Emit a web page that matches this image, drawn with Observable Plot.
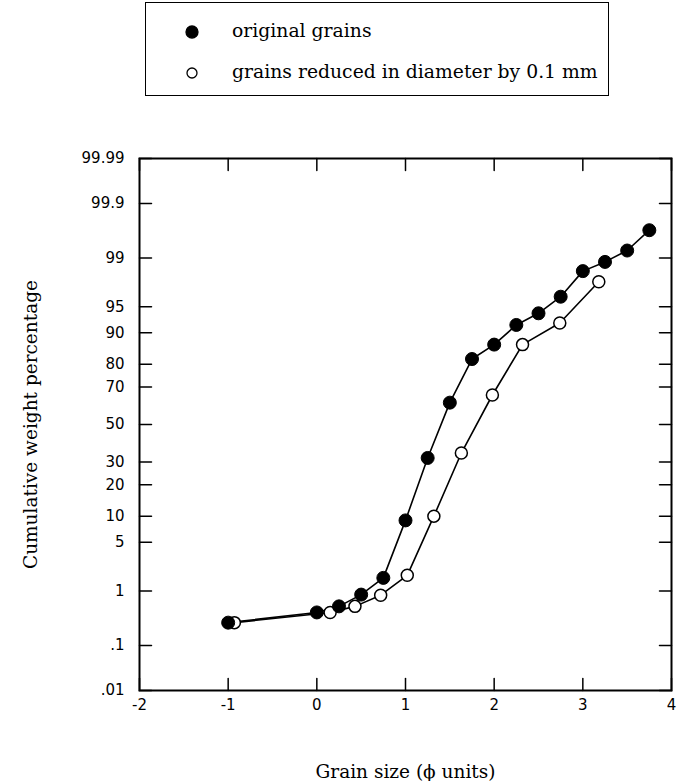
<!DOCTYPE html>
<html>
<head>
<meta charset="utf-8">
<script src="https://cdn.jsdelivr.net/npm/d3@7"></script>
<script src="https://cdn.jsdelivr.net/npm/@observablehq/plot@0.6"></script>
<style>
  html, body { margin: 0; padding: 0; background: #fff; }
  #wrap { width: 683px; position: relative; }
  #legend { position: relative; width: 683px; height: 100px; }
  #legendBox { position: absolute; left: 145px; top: 2px; width: 464px; height: 94px; border: 1.5px solid #000; box-sizing: border-box; }
  .row { position: absolute; left: 0; font-family: "DejaVu Serif", serif; font-size: 18.8px; color: #000; white-space: nowrap; }
  .row svg { position: absolute; left: 38px; }
  .row span { position: absolute; left: 86px; top: -12px; }
</style>
</head>
<body>
<div id="wrap">
  <div id="legend"><div id="legendBox"></div></div>
  <div id="chart"></div>
</div>
<script>
// ---- data ----
const phiOriginal = [-1, 0, 0.25, 0.5, 0.75, 1, 1.25, 1.5, 1.75, 2, 2.25, 2.5, 2.75, 3, 3.25, 3.5, 3.75];
const pctOriginal = [0.28, 0.43, 0.55, 0.87, 1.6, 9, 32, 62, 82, 86.8, 91.8, 94, 96.3, 98.4, 98.85, 99.25, 99.67];
const phiReduced = [-0.93, 0.15, 0.43, 0.72, 1.02, 1.32, 1.63, 1.98, 2.32, 2.74, 3.18];
const pctReduced = [0.28, 0.43, 0.55, 0.85, 1.75, 10, 34.5, 66, 86.8, 92.2, 97.7];
const yTickValues = [0.01, 0.1, 1, 5, 10, 20, 30, 50, 70, 80, 90, 95, 99, 99.9, 99.99];
const yTickLabels = [".01", ".1", "1", "5", "10", "20", "30", "50", "70", "80", "90", "95", "99", "99.9", "99.99"];
const xTickValues = [-2, -1, 0, 1, 2, 3, 4];
const xTickLabels = ["-2", "-1", "0", "1", "2", "3", "4"];
const seriesNames = ["original grains", "grains reduced in diameter by 0.1 mm"];
const xTitle = "Grain size (\u03d5 units)";
const yTitle = "Cumulative weight percentage";

// inverse standard normal CDF (Acklam) for the probability axis
function probit(p) {
  const a = [-3.969683028665376e+01, 2.209460984245205e+02, -2.759285104469687e+02, 1.383577518672690e+02, -3.066479806614716e+01, 2.506628277459239e+00];
  const b = [-5.447609879822406e+01, 1.615858368580409e+02, -1.556989798598866e+02, 6.680131188771972e+01, -1.328068155288572e+01];
  const c = [-7.784894002430293e-03, -3.223964580411365e-01, -2.400758277161838e+00, -2.549732539343734e+00, 4.374664141464968e+00, 2.938163982698783e+00];
  const d = [7.784695709041462e-03, 3.224671290700398e-01, 2.445134137142996e+00, 3.754408661907416e+00];
  const plow = 0.02425, phigh = 1 - plow;
  let q, r;
  if (p < plow) {
    q = Math.sqrt(-2 * Math.log(p));
    return (((((c[0]*q+c[1])*q+c[2])*q+c[3])*q+c[4])*q+c[5]) / ((((d[0]*q+d[1])*q+d[2])*q+d[3])*q+1);
  } else if (p <= phigh) {
    q = p - 0.5; r = q*q;
    return (((((a[0]*r+a[1])*r+a[2])*r+a[3])*r+a[4])*r+a[5])*q / (((((b[0]*r+b[1])*r+b[2])*r+b[3])*r+b[4])*r+1);
  } else {
    q = Math.sqrt(-2 * Math.log(1 - p));
    return -(((((c[0]*q+c[1])*q+c[2])*q+c[3])*q+c[4])*q+c[5]) / ((((d[0]*q+d[1])*q+d[2])*q+d[3])*q+1);
  }
}
const z = pct => probit(pct / 100);

const original = phiOriginal.map((phi, i) => ({phi, pct: pctOriginal[i]}));
const reduced = phiReduced.map((phi, i) => ({phi, pct: pctReduced[i]}));
const yTickZ = yTickValues.map(z);

// legend
const box = document.getElementById("legendBox");
[[0, 29, true], [1, 70, false]].forEach(([i, top, filled]) => {
  const row = document.createElement("div");
  row.className = "row";
  row.style.top = top + "px";
  const r = filled ? 6 : 5;
  row.innerHTML = `<svg width="16" height="16" style="top:-8px" viewBox="-8 -8 16 16"><circle r="${r}" fill="${filled ? "#000" : "#fff"}" stroke="#000" stroke-width="1.3"></circle></svg><span>${seriesNames[i]}</span>`;
  box.appendChild(row);
});

const tickFont = {fontSize: 15, fontFamily: "DejaVu Sans"};
const tickShape = {draw(context, l) { context.moveTo(0, 0); context.lineTo(0, -l); }};
const tickStyle = {length: 12, anchor: "start", shape: tickShape, stroke: "#000", strokeWidth: 1.5};

const chart = Plot.plot({
  width: 683,
  height: 681,
  marginTop: 58,
  marginBottom: 91,
  marginLeft: 139,
  marginRight: 12,
  style: {fontFamily: "DejaVu Sans", fontSize: "15px", color: "#000", background: "#fff"},
  x: {domain: [-2, 4]},
  y: {domain: [z(0.01), z(99.99)]},
  marks: [
    // tick labels
    Plot.axisY(yTickZ, {anchor: "left", tickSize: 0, tickPadding: 15, label: null,
      tickFormat: v => yTickLabels[yTickZ.indexOf(v)], ...tickFont}),
    Plot.axisX(xTickValues, {anchor: "bottom", tickSize: 0, tickPadding: 9, label: null,
      tickFormat: v => xTickLabels[xTickValues.indexOf(v)], ...tickFont}),
    // inward tick marks on all four sides
    Plot.vector(yTickZ, {y: d => d, frameAnchor: "left", rotate: 90, ...tickStyle}),
    Plot.vector(yTickZ, {y: d => d, frameAnchor: "right", rotate: -90, ...tickStyle}),
    Plot.vector(xTickValues, {x: d => d, frameAnchor: "bottom", rotate: 0, ...tickStyle}),
    Plot.vector(xTickValues, {x: d => d, frameAnchor: "top", rotate: 180, ...tickStyle}),
    Plot.frame({stroke: "#000", strokeWidth: 2}),
    Plot.line(reduced, {x: "phi", y: d => z(d.pct), stroke: "#000", strokeWidth: 1.6}),
    Plot.line(original, {x: "phi", y: d => z(d.pct), stroke: "#000", strokeWidth: 1.6}),
    Plot.dot(reduced, {x: "phi", y: d => z(d.pct), r: 6, fill: "#fff", stroke: "#000", strokeWidth: 1.5}),
    Plot.dot(original, {x: "phi", y: d => z(d.pct), r: 6.5, fill: "#000", stroke: "#000", strokeWidth: 1}),
    Plot.text([yTitle], {frameAnchor: "left", dx: -108, rotate: -90, textAnchor: "middle", lineAnchor: "middle",
      fontFamily: "DejaVu Serif", fontSize: 18.5, fill: "#000"}),
    Plot.text([xTitle], {frameAnchor: "bottom", dy: 82, textAnchor: "middle", lineAnchor: "middle",
      fontFamily: "DejaVu Serif", fontSize: 18.5, fill: "#000"})
  ]
});
document.getElementById("chart").appendChild(chart);
</script>
</body>
</html>
